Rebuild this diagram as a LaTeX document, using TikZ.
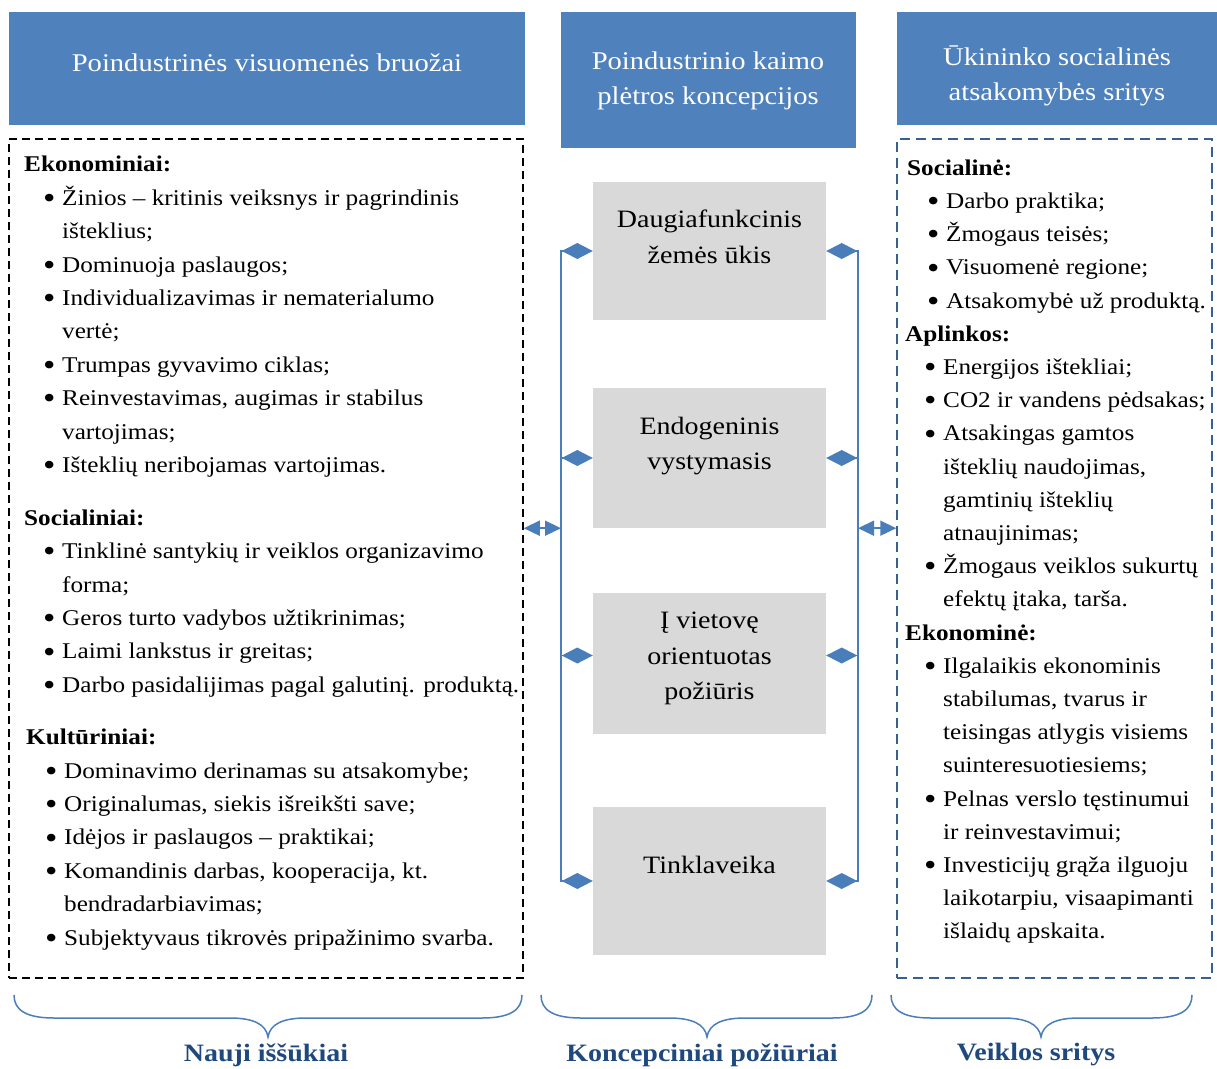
\documentclass[tikz,border=0pt]{standalone}
\usepackage{fontspec}
\setmainfont{Liberation Serif}[FakeStretch=1.12]
\usetikzlibrary{arrows.meta,positioning,calc}

\definecolor{hdrblue}{RGB}{79,129,189}
\definecolor{boxgrey}{RGB}{217,217,217}
\definecolor{linkblue}{RGB}{74,126,187}
\definecolor{darkblue}{RGB}{31,73,125}
\definecolor{dashblue}{RGB}{54,96,146}

\newcommand{\itm}[1]{\hspace*{19pt}\makebox[19pt][l]{\raisebox{-3.2pt}{\scalebox{1.4}{\textbullet}}}#1}
\newcommand{\cnt}[1]{\hspace*{38pt}#1}
% brace under a column: left x, right x, tip x
\newcommand{\wbrace}[3]{%
  \draw[brace] (#1,995) .. controls (#1,1010) and (#1+12,1018) .. (#1+40,1018)
    -- (#3-38,1018) .. controls (#3-15,1018) and (#3-2,1024) .. (#3,1037)
    .. controls (#3+2,1024) and (#3+15,1018) .. (#3+38,1018)
    -- (#2-40,1018) .. controls (#2-12,1018) and (#2,1010) .. (#2,995);}

\tikzset{
  hdr/.style={fill=hdrblue, draw=none},
  htxt/.style={text=white, inner sep=0, align=center, font=\fontsize{25.5}{35.5}\selectfont},
  gbox/.style={fill=boxgrey, draw=none, minimum width=233pt, inner sep=0},
  gtxt/.style={inner sep=0, align=center, font=\fontsize{25}{35.5}\selectfont},
  body/.style={inner sep=0, align=left, font=\fontsize{22.5}{33.4}\selectfont},
  link/.style={draw=linkblue, line width=1.6pt},
  tipd/.tip={Diamond[length=31pt, width=16pt]},
  tipt/.tip={Triangle[length=16pt, width=15pt]},
  brace/.style={draw=linkblue, line width=1.5pt},
  foot/.style={inner sep=0, text=darkblue, font=\fontsize{25}{30}\selectfont\bfseries}
}

\begin{document}
\begin{tikzpicture}[x=1pt, y=-1pt]
	\useasboundingbox (0,0) rectangle (1217,1068);
	% headers
	\fill[hdr] (9,12) rectangle (525,125);
	\fill[hdr] (561,12) rectangle (856,148);
	\fill[hdr] (897,12) rectangle (1217,125);
	\node[htxt] (hL) at (267,63) {Poindustrinės visuomenės bruožai};
	\node[htxt] (hM) at (708,81) {Poindustrinio kaimo\\plėtros koncepcijos};
	\node[htxt] (hR) at (1057,76) {Ūkininko socialinės\\atsakomybės sritys};

	% dashed frames
	\node[draw=black, line width=1.5pt, dash pattern=on 8pt off 5pt,
		minimum width=514pt, minimum height=839pt, inner sep=0] (lbox) at (266,558.5) {};
	\node[draw=dashblue, line width=1.5pt, dash pattern=on 10pt off 6pt,
		minimum width=315pt, minimum height=839pt, inner sep=0] (rbox) at (1054.5,558.5) {};

	% grey boxes
	\node[gbox, minimum height=138pt] (g1) at (709.5,251) {};
	\node[gbox, minimum height=140pt] (g2) at (709.5,458) {};
	\node[gbox, minimum height=141pt] (g3) at (709.5,663.5) {};
	\node[gbox, minimum height=148pt] (g4) at (709.5,881) {};
	\node[gtxt, anchor=north] (g1t) at ([yshift=-28pt]g1.north) {Daugiafunkcinis\\žemės ūkis};
	\node[gtxt, anchor=north] (g2t) at ([yshift=-29pt]g2.north) {Endogeninis\\vystymasis};
	\node[gtxt, anchor=north] (g3t) at ([yshift=-19pt]g3.north) {Į vietovę\\orientuotas\\požiūris};
	\node[gtxt, anchor=north] (g4t) at ([yshift=-49pt]g4.north) {Tinklaveika};

	% buses
	\coordinate (lbus) at (561,0);
	\coordinate (rbus) at (858,0);
	\draw[link, tipd-tipd] (g1.west) -- (g1.west -| lbus) -- (g4.west -| lbus) -- (g4.west);
	\draw[link, tipd-tipd] (g1.east) -- (g1.east -| rbus) -- (g4.east -| rbus) -- (g4.east);
	\draw[link, -tipd] (g2.west -| lbus) -- (g2.west);
	\draw[link, -tipd] (g2.east -| rbus) -- (g2.east);
	\draw[link, -tipd] ([yshift=8pt]g3.west -| lbus) -- ([yshift=8pt]g3.west);
	\draw[link, -tipd] ([yshift=8pt]g3.east -| rbus) -- ([yshift=8pt]g3.east);
	\draw[link, tipt-tipt] (lbox.east |- g2.south) -- (lbus |- g2.south);
	\draw[link, tipt-tipt] (rbus |- g2.south) -- (rbox.west |- g2.south);

	% left column text
	\node[body, anchor=north west] (ltxt) at (24,156) {%
		\textbf{Ekonominiai:}\\
		\itm{Žinios – kritinis veiksnys ir pagrindinis}\\
		\cnt{išteklius;}\\
		\itm{Dominuoja paslaugos;}\\
		\itm{Individualizavimas ir nematerialumo}\\
		\cnt{vertė;}\\
		\itm{Trumpas gyvavimo ciklas;}\\
		\itm{Reinvestavimas, augimas ir stabilus}\\
		\cnt{vartojimas;}\\
		\itm{Išteklių neribojamas vartojimas.}\\[19.5pt]
		\textbf{Socialiniai:}\\
		\itm{Tinklinė santykių ir veiklos organizavimo}\\
		\cnt{forma;}\\
		\itm{Geros turto vadybos užtikrinimas;}\\
		\itm{Laimi lankstus ir greitas;}\\
		\itm{Darbo pasidalijimas pagal galutinį. produktą.}\\[19pt]
		\hspace*{2pt}\textbf{Kultūriniai:}\\
		\hspace*{2pt}\itm{Dominavimo derinamas su atsakomybe;}\\
		\hspace*{2pt}\itm{Originalumas, siekis išreikšti save;}\\
		\hspace*{2pt}\itm{Idėjos ir paslaugos – praktikai;}\\
		\hspace*{2pt}\itm{Komandinis darbas, kooperacija, kt.}\\
		\hspace*{2pt}\cnt{bendradarbiavimas;}\\
		\hspace*{2pt}\itm{Subjektyvaus tikrovės pripažinimo svarba.}};

	% right column text
	\node[body, anchor=north west, font=\fontsize{22.5}{33.2}\selectfont] (rtxt) at (905,159.5) {%
		\hspace*{2pt}\textbf{Socialinė:}\\
		\hspace*{3pt}\itm{Darbo praktika;}\\
		\hspace*{3pt}\itm{Žmogaus teisės;}\\
		\hspace*{3pt}\itm{Visuomenė regione;}\\
		\hspace*{3pt}\itm{Atsakomybė už produktą.}\\
		\textbf{Aplinkos:}\\
		\itm{Energijos ištekliai;}\\
		\itm{CO2 ir vandens pėdsakas;}\\
		\itm{Atsakingas gamtos}\\
		\cnt{išteklių naudojimas,}\\
		\cnt{gamtinių išteklių}\\
		\cnt{atnaujinimas;}\\
		\itm{Žmogaus veiklos sukurtų}\\
		\cnt{efektų įtaka, tarša.}\\
		\textbf{Ekonominė:}\\
		\itm{Ilgalaikis ekonominis}\\
		\cnt{stabilumas, tvarus ir}\\
		\cnt{teisingas atlygis visiems}\\
		\cnt{suinteresuotiesiems;}\\
		\itm{Pelnas verslo tęstinumui}\\
		\cnt{ir reinvestavimui;}\\
		\itm{Investicijų grąža ilguoju}\\
		\cnt{laikotarpiu, visaapimanti}\\
		\cnt{išlaidų apskaita.}};

	% braces and captions
	\wbrace{14}{522}{268}
	\wbrace{541}{872}{707}
	\wbrace{891}{1192}{1041}
	\node[foot] (f1) at (266,1055) {Nauji iššūkiai};
	\node[foot] (f2) at (702,1055) {Koncepciniai požiūriai};
	\node[foot] (f3) at (1036,1055) {Veiklos sritys};
\end{tikzpicture}
\end{document}
